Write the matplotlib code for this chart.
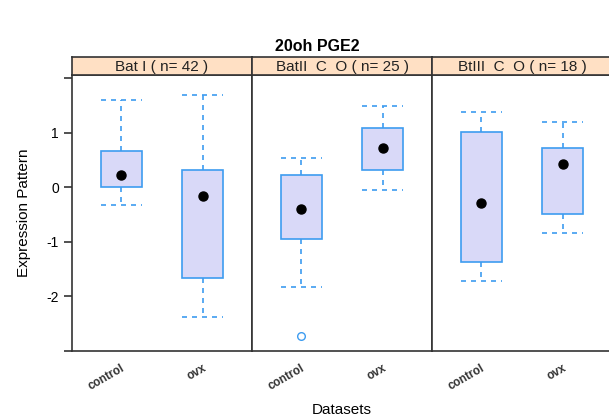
import matplotlib
matplotlib.use("Agg")
import matplotlib.pyplot as plt

plt.rcParams["font.family"] = ["Liberation Sans", "DejaVu Sans"]

# one panel per dataset, two groups per panel
panels = ["Bat I ( n= 42 )", "BatII  C  O ( n= 25 )", "BtIII  C  O ( n= 18 )"]
groups = ["control", "ovx"]

whisker_lo = [[-0.33, -2.37], [-1.83, -0.04], [-1.72, -0.84]]
q1 = [[0.00, -1.67], [-0.94, 0.31], [-1.36, -0.48]]
medians = [[0.22, -0.15], [-0.40, 0.72], [-0.28, 0.42]]
q3 = [[0.66, 0.31], [0.22, 1.08], [1.01, 0.73]]
whisker_hi = [[1.60, 1.69], [0.53, 1.50], [1.38, 1.19]]
outliers = [[[], []], [[-2.72], []], [[], []]]

box_edge = "#3d9cf0"
box_fill = "#d9d9f8"
strip_fill = "#ffe0c4"

W, H = 609, 419
fig = plt.figure(figsize=(W / 100, H / 100), dpi=100)

left, pw = 72, 180
top, bottom = 75, 351
strip_h = 18

axes = []
for i, name in enumerate(panels):
    x0 = left + i * pw
    ax = fig.add_axes([x0 / W, (H - bottom) / H, pw / W, (bottom - top) / H])
    stats = []
    for j, g in enumerate(groups):
        stats.append({
            "whislo": whisker_lo[i][j], "q1": q1[i][j], "med": medians[i][j],
            "q3": q3[i][j], "whishi": whisker_hi[i][j], "fliers": outliers[i][j],
            "label": g,
        })
    ax.bxp(stats, positions=[1, 2], widths=0.5, patch_artist=True,
           boxprops=dict(facecolor=box_fill, edgecolor=box_edge, linewidth=1.2),
           whiskerprops=dict(color=box_edge, linestyle=(0, (3, 3)), linewidth=1.2),
           capprops=dict(color=box_edge, linestyle=(0, (3, 3)), linewidth=1.2),
           medianprops=dict(linewidth=0),
           flierprops=dict(marker="o", markerfacecolor="none",
                           markeredgecolor=box_edge, markersize=5.5),
           capwidths=0.5)
    ax.plot([1, 2], medians[i], "o", color="black", markersize=6.5, zorder=5)
    ax.set_xlim(0.4, 2.6)
    ax.set_ylim(-3.0, 2.06)
    for s in ax.spines.values():
        s.set_color("#333333")
        s.set_linewidth(1.2)
    ax.set_xticks([1, 2])
    ax.set_xticklabels(groups, rotation=30, ha="right", rotation_mode="anchor",
                       fontsize=8.5, fontweight="bold", color="#333333")
    ax.tick_params(axis="x", length=0, pad=8)
    if i == 0:
        ax.set_yticks([2, 1, 0, -1, -2, -3])
        ax.set_yticklabels(["", "1", "0", "-1", "-2", ""], fontsize=10)
        ax.tick_params(axis="y", length=6, width=1.2, direction="out",
                       color="#333333")
    else:
        ax.set_yticks([])
    axes.append(ax)

    # strip header above each panel
    sax = fig.add_axes([x0 / W, (H - top) / H, pw / W, strip_h / H])
    sax.set_facecolor(strip_fill)
    sax.set_xticks([])
    sax.set_yticks([])
    for s in sax.spines.values():
        s.set_color("#333333")
        s.set_linewidth(1.2)
    sax.text(0.5, 0.45, name, ha="center", va="center", fontsize=11,
             color="#222222", transform=sax.transAxes)

fig.text(317 / W, 1 - 46 / H, "20oh PGE2", ha="center", va="center",
         fontsize=11.5, fontweight="bold")
fig.text(24 / W, 1 - 213 / H, "Expression Pattern", ha="center", va="center",
         rotation=90, fontsize=11)
fig.text(342 / W, 1 - 410 / H, "Datasets", ha="center", va="center",
         fontsize=11)

fig.savefig("out.png", dpi=100)
